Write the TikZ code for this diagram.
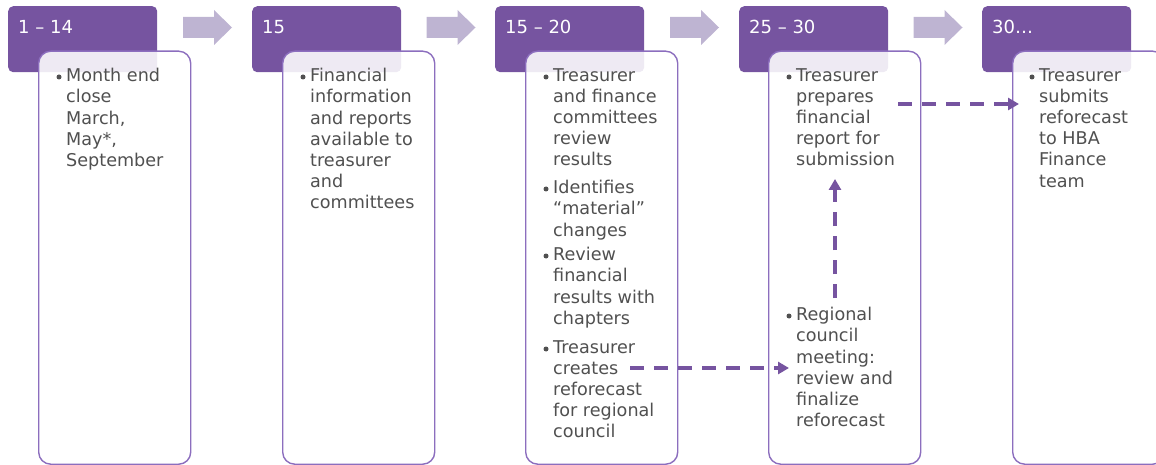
\documentclass[tikz,border=0pt]{standalone}
\usepackage{fontspec}
\setmainfont{DejaVu Sans}
\usetikzlibrary{arrows.meta}
\definecolor{hdr}{RGB}{118,84,160}
\definecolor{chev}{RGB}{190,180,210}
\definecolor{bodyline}{RGB}{140,110,190}
\definecolor{txt}{RGB}{80,80,80}
\tikzset{
  hdrbox/.style={fill=hdr, draw=none, rounded corners=5pt},
  bodybox/.style={fill=white, fill opacity=0.88, draw=bodyline, line width=1.4pt, rounded corners=12pt},
  hdrtext/.style={text=white, font=\fontsize{18}{20}\selectfont, anchor=base west, inner sep=0pt},
  bullettext/.style={text=txt, font=\fontsize{17.6}{21.2}\selectfont, anchor=north west, align=left, inner sep=0pt, execute at begin node=\strut},
  bulletdot/.style={fill=txt, draw=none, circle, inner sep=0pt, minimum size=5pt},
  chevron/.style={fill=chev, draw=none},
  dasharrow/.style={draw=hdr, line width=3.8pt, dash pattern=on 14pt off 10pt, -{Triangle[length=11pt,width=12pt]}}
}
\newcommand{\bl}{14.84}
\begin{document}
\begin{tikzpicture}[x=1pt,y=-1pt]
\useasboundingbox (0,0) rectangle (1156,465);
% headers
\foreach \i/\x/\lab in {1/8/{1 -- 14},2/252/{15},3/495/{15 -- 20},4/739/{25 -- 30},5/982/{30\dots}}{
  \node[hdrbox, minimum width=149pt, minimum height=66pt, anchor=north west, inner sep=0pt] (h\i) at (\x,6) {};
  \node[hdrtext] (ht\i) at (\x+10,34) {\lab};
}
% chevrons
\foreach \i/\x in {1/183,2/426.5,3/670,4/913.5}{
  \path[chevron] (\x,17) -- (\x+31,17) -- (\x+31,10) -- (\x+49,27.5) -- (\x+31,45) -- (\x+31,38) -- (\x,38) -- cycle;
}
% bodies
\foreach \i/\x/\w in {1/38/152,2/282/152,3/525/152,4/768/152,5/1012/152}{
  \node[bodybox, minimum width=\w pt, minimum height=413pt, anchor=north west, inner sep=0pt] (b\i) at (\x,50.5) {};
}
% column 1
\node[bulletdot] (d1) at (59,77) {};
\node[bullettext] (t1) at (66,83-\bl) {Month end\\close\\March,\\May*,\\September};
% column 2
\node[bulletdot] (d2) at (303,77) {};
\node[bullettext] (t2) at (310,83-\bl) {Financial\\information\\and reports\\available to\\treasurer\\and\\committees};
% column 3
\node[bulletdot] (d3a) at (546,77) {};
\node[bullettext] (t3a) at (553,83-\bl) {Treasurer\\and finance\\committees\\review\\results};
\node[bulletdot] (d3b) at (546,189) {};
\node[bullettext] (t3b) at (553,195-\bl) {Identifies\\``material''\\changes};
\node[bulletdot] (d3c) at (546,256) {};
\node[bullettext] (t3c) at (553,262-\bl) {Review\\financial\\results with\\chapters};
\node[bulletdot] (d3d) at (546,349) {};
\node[bullettext] (t3d) at (553,355-\bl) {Treasurer\\creates\\reforecast\\for regional\\council};
% column 4
\node[bulletdot] (d4a) at (789,77) {};
\node[bullettext] (t4a) at (796,83-\bl) {Treasurer\\prepares\\financial\\report for\\submission};
\node[bulletdot] (d4b) at (789,316) {};
\node[bullettext] (t4b) at (796,322-\bl) {Regional\\council\\meeting:\\review and\\finalize\\reforecast};
% column 5
\node[bulletdot] (d5) at (1032,77) {};
\node[bullettext] (t5) at (1039,83-\bl) {Treasurer\\submits\\reforecast\\to HBA\\Finance\\team};
% dashed connectors
\coordinate (s1) at (630,368);
\coordinate (e1) at (789,368);
\draw[dasharrow] (s1) -- (e1);
\coordinate (s2) at (835,298);
\coordinate (e2) at (835,179);
\draw[dasharrow] (s2) -- (e2);
\coordinate (s3) at (898,104);
\coordinate (e3) at (1019,104);
\draw[dasharrow] (s3) -- (e3);
\end{tikzpicture}
\end{document}
